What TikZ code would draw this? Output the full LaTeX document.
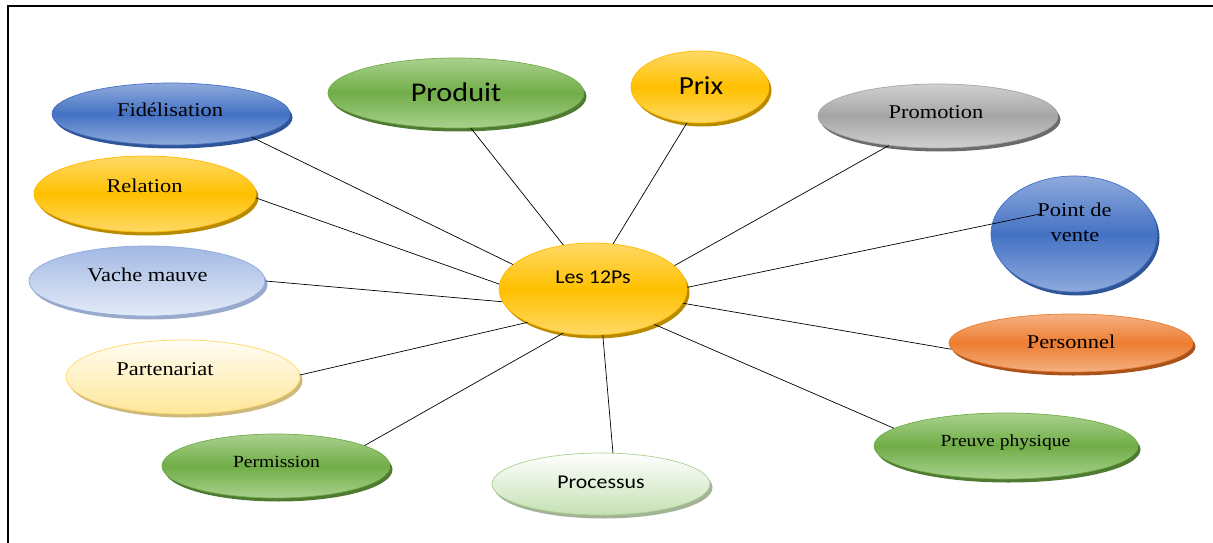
\documentclass[tikz,border=0pt]{standalone}
\usepackage{fontspec}
\setmainfont{Liberation Serif}[FakeStretch=1.15]
\newfontfamily\calfont{Carlito}[FakeStretch=1.12]
\usetikzlibrary{shapes.geometric,shadows,calc}

% palette
\definecolor{blueLt}{HTML}{8FAADC}
\definecolor{blueMid}{HTML}{4472C4}
\definecolor{blueDk}{HTML}{2F5597}
\definecolor{greenLt}{HTML}{A9D18E}
\definecolor{greenMid}{HTML}{70AD47}
\definecolor{greenDk}{HTML}{4E7A31}
\definecolor{goldLt}{HTML}{FFD966}
\definecolor{goldMid}{HTML}{FFC000}
\definecolor{goldDk}{HTML}{B88A00}
\definecolor{grayLt}{HTML}{D0D0D0}
\definecolor{grayMid}{HTML}{A5A5A5}
\definecolor{grayDk}{HTML}{6B6B6B}
\definecolor{orangeLt}{HTML}{F4B183}
\definecolor{orangeMid}{HTML}{ED7D31}
\definecolor{orangeDk}{HTML}{A9531B}
\definecolor{paleBlueTop}{HTML}{A2B8E4}
\definecolor{paleBlueBot}{HTML}{E4EBF7}
\definecolor{paleBlueSh}{HTML}{9BAACB}
\definecolor{creamTop}{HTML}{FFFDF4}
\definecolor{creamBot}{HTML}{FFE699}
\definecolor{creamSh}{HTML}{CDB87E}
\definecolor{mintBot}{HTML}{C5E0B4}
\definecolor{mintSh}{HTML}{A3B398}

\tikzset{
  bubble/.style={ellipse, inner sep=0pt, line width=0.7pt,
    minimum width=#1},
  bevel/.style n args={4}{% light, middle, shadow, edge
    draw=#4, top color=#1, bottom color=#1, middle color=#2,
    general shadow={fill=#3, shadow xshift=2.5pt, shadow yshift=-3.5pt}},
  bluebub/.style={bubble=#1, bevel={blueLt}{blueMid}{blueDk}{blueMid}},
  greenbub/.style={bubble=#1, bevel={greenLt}{greenMid}{greenDk}{greenMid}},
  goldbub/.style={bubble=#1, bevel={goldLt}{goldMid}{goldDk}{goldMid!90!orange}},
  graybub/.style={bubble=#1, bevel={grayLt}{grayMid}{grayDk}{grayMid}},
  orangebub/.style={bubble=#1, bevel={orangeLt}{orangeMid}{orangeDk}{orangeMid}},
  fadebub/.style n args={4}{bubble=#1, draw=#2!80!black!20!#2, top color=#3, bottom color=#4,
    general shadow={fill=#2!70!gray, shadow xshift=2.5pt, shadow yshift=-3.5pt}},
  serif/.style={anchor=base, font=\fontsize{19.5}{23}\selectfont},
  serifsm/.style={anchor=base, font=\fontsize{17}{20}\selectfont},
  sans/.style={anchor=base, font=\calfont\fontsize{#1}{#1}\selectfont},
  spoke/.style={draw=black, line width=0.7pt}
}

\begin{document}
\begin{tikzpicture}[x=1pt,y=-1pt]
\useasboundingbox (0,0) rectangle (1213,543);

% frame
\coordinate (frameBL) at (8,543);
\coordinate (frameTL) at (8,6);
\coordinate (frameTR) at (1213,6);
\draw[line width=1.6pt] (frameBL) -- (frameTL) -- (frameTR);

% outer bubbles
\node[bluebub=238pt, minimum height=62pt] (fid) at (171,114) {};
\node[greenbub=256pt, minimum height=70pt] (prod) at (456,93) {};
\node[goldbub=138pt, minimum height=72pt] (prix) at (700,87) {};
\node[graybub=240pt, minimum height=64pt] (promo) at (938,116) {};
\node[bluebub=166pt, minimum height=116pt] (pdv) at (1074,234) {};
\node[goldbub=222pt, minimum height=76pt] (rel) at (145,194) {};
\node[bubble=236pt, minimum height=70pt, draw=blueLt, top color=paleBlueTop, bottom color=paleBlueBot,
      general shadow={fill=paleBlueSh, shadow xshift=2.5pt, shadow yshift=-3.5pt}] (vache) at (147,281) {};
\node[bubble=234pt, minimum height=74pt, draw=goldLt, top color=creamTop, bottom color=creamBot,
      general shadow={fill=creamSh, shadow xshift=2.5pt, shadow yshift=-3.5pt}] (part) at (183,377) {};
\node[greenbub=228pt, minimum height=64pt] (perm) at (276,466) {};
\node[bubble=218pt, minimum height=62pt, draw=greenLt, top color=white, bottom color=mintBot,
      general shadow={fill=mintSh, shadow xshift=2.5pt, shadow yshift=-3.5pt}] (proc) at (601,484) {};
\node[greenbub=264pt, minimum height=66pt] (preuve) at (1006,446) {};
\node[orangebub=244pt, minimum height=58pt] (pers) at (1071,343) {};

% centre
\node[goldbub=188pt, minimum height=92pt] (core) at (593,289) {};

% labels
\node[serif] at (170,117) {Fidélisation};
\node[sans=27] at (456,101) {Produit};
\node[sans=26] at (701,94) {Prix};
\node[serif] at (936,118) {Promotion};
\node[serif] at (1074.5,216) {Point de};
\node[serif] at (1075,241) {vente};
\node[serif] at (144.5,192) {Relation};
\node[serif] at (147.5,281) {Vache mauve};
\node[serif] at (165,375) {Partenariat};
\node[serifsm] at (276.5,467) {Permission};
\node[sans=19.5] at (601,488) {Processus};
\node[serifsm] at (1005.5,446) {Preuve physique};
\node[serif] at (1071,348) {Personnel};
\node[sans=19.5] at (593,283) {Les 12Ps};

% spokes
\draw[spoke] (core.163.9) -- (fid.344.6);
\draw[spoke] (core.177.6) -- (rel.358.5);
\draw[spoke] (core.188.4) -- (vache.0);
\draw[spoke] (core.207.6) -- (part.1.5);
\draw[spoke] (core.236) -- (perm.13.7);
\draw[spoke] (core.282) -- (proc.69);
\draw[spoke] (core.330) -- (preuve.171.4);
\draw[spoke] (core.351.4) -- (pers.183);
\draw[spoke] (core.1.2) -- ($(pdv.center)+(-34,-20)$);
\draw[spoke] (core.16) -- (promo.211.8);
\draw[spoke] (core.66.5) -- (prix.250.7);
\draw[spoke] (core.124.6) -- (prod.293);
\end{tikzpicture}
\end{document}
